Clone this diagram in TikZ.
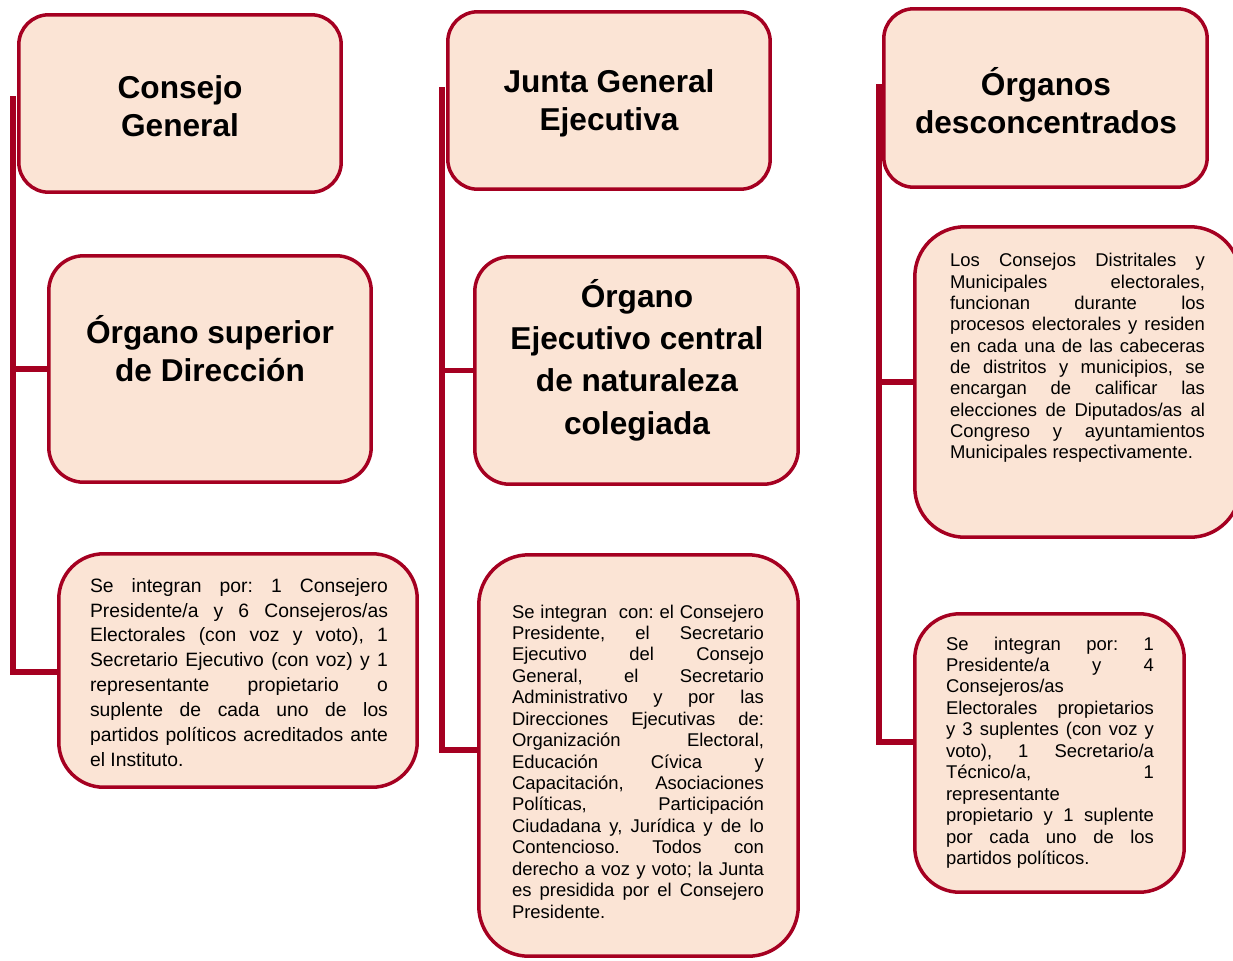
\documentclass[tikz,border=0pt]{standalone}
\usepackage{fontspec}
\setmainfont{Liberation Sans}
\definecolor{ineborde}{HTML}{A50021}
\definecolor{inefondo}{HTML}{FBE4D5}
\tolerance=10000
\hbadness=10000
\hyphenpenalty=10000
\exhyphenpenalty=10000
\frenchspacing

\begin{document}
\begin{tikzpicture}[x=0.02cm,y=-0.02cm,
  caja/.style={draw=ineborde,fill=inefondo,line width=0.07cm,inner sep=0pt},
  titulo/.style={align=center,font=\fontsize{18}{21.5}\selectfont\bfseries},
  parrafo/.style={align=justify,inner sep=0pt,font=\fontsize{10.5}{12.15}\selectfont},
  eje/.style={draw=ineborde,line width=0.11cm}]
\useasboundingbox (0,0) rectangle (1233,960);
\clip (0,0) rectangle (1233,960);
% primera columna
\node[caja,minimum width=6.45cm,minimum height=3.55cm,rounded corners=0.6cm] (cg) at (180,103.5) {};
\node[caja,minimum width=6.45cm,minimum height=4.53cm,rounded corners=0.7cm] (osd) at (210,369) {};
\node[caja,minimum width=7.17cm,minimum height=4.67cm,rounded corners=0.9cm] (cgint) at (238,670.5) {};
\node[titulo] (cgtxt) at (180,106) {Consejo\\General};
\node[titulo] (osdtxt) at (210,349) {Órgano superior\\de Dirección};
\node[parrafo,text width=5.96cm,font=\fontsize{11}{14.2}\selectfont] (cginttxt) at (239,672.5) {Se integran por: 1 Consejero\linebreak
Presidente/a y 6 Consejeros/as\linebreak
Electorales (con voz y voto), 1\linebreak
Secretario Ejecutivo (con voz) y 1\linebreak
representante propietario o\linebreak
suplente de cada uno de los\linebreak
partidos políticos acreditados ante\linebreak
el Instituto.};
% segunda columna
\node[caja,minimum width=6.45cm,minimum height=3.55cm,rounded corners=0.6cm] (jge) at (609,100.5) {};
\node[caja,minimum width=6.47cm,minimum height=4.55cm,rounded corners=0.7cm] (oec) at (636.5,370.5) {};
\node[caja,minimum width=6.39cm,minimum height=8.03cm,rounded corners=1cm] (jgeint) at (638.5,755.5) {};
\node[titulo] (jgetxt) at (609,103) {Junta General\\Ejecutiva};
\node[titulo,font=\fontsize{18}{24.1}\selectfont\bfseries] (oectxt) at (637,360) {Órgano\\Ejecutivo central\\de naturaleza\\colegiada};
\node[parrafo,text width=5.04cm,font=\fontsize{10.5}{12.2}\selectfont] (jgeinttxt) at (638,761.5) {Se integran\ \ con: el Consejero\linebreak
Presidente, el Secretario\linebreak
Ejecutivo del Consejo\linebreak
General, el Secretario\linebreak
Administrativo y por las\linebreak
Direcciones Ejecutivas de:\linebreak
Organización Electoral,\linebreak
Educación Cívica y\linebreak
Capacitación, Asociaciones\linebreak
Políticas, Participación\linebreak
Ciudadana y, Jurídica y de lo\linebreak
Contencioso. Todos con\linebreak
derecho a voz y voto; la Junta\linebreak
es presidida por el Consejero\linebreak
Presidente.};
% tercera columna
\node[caja,minimum width=6.47cm,minimum height=3.57cm,rounded corners=0.6cm] (od) at (1045.5,98) {};
\node[caja,minimum width=6.51cm,minimum height=6.21cm,rounded corners=1cm] (cdm) at (1077.5,382) {};
\node[caja,minimum width=5.39cm,minimum height=5.57cm,rounded corners=0.9cm] (odint) at (1049.5,753) {};
\node[titulo] (odtxt) at (1046,101) {Órganos\\desconcentrados};
\node[parrafo,text width=5.1cm] (cdmtxt) at (1077.5,358) {Los Consejos Distritales y\linebreak
Municipales electorales,\linebreak
funcionan durante los\linebreak
procesos electorales y residen\linebreak
en cada una de las cabeceras\linebreak
de distritos y municipios, se\linebreak
encargan de calificar las\linebreak
elecciones de Diputados/as al\linebreak
Congreso y ayuntamientos\linebreak
Municipales respectivamente.};
\node[parrafo,text width=4.16cm,font=\fontsize{10.5}{12.2}\selectfont] (odinttxt) at (1050,752.5) {Se integran por: 1\linebreak
Presidente/a y 4\linebreak
Consejeros/as\linebreak
Electorales propietarios\linebreak
y 3 suplentes (con voz y\linebreak
voto), 1 Secretario/a\linebreak
Técnico/a, 1\linebreak
representante\linebreak
propietario y 1 suplente\linebreak
por cada uno de los\linebreak
partidos políticos.};
% ejes
\coordinate (e1) at (13,96);
\coordinate (e1b) at (13,672);
\coordinate (e2) at (442,87);
\coordinate (e2b) at (442,750);
\coordinate (e3) at (879,84);
\coordinate (e3b) at (879,742);
\draw[eje] (e1) -- (e1b) -- (e1b -| cgint.west);
\draw[eje] (e1 |- osd.west) -- (osd.west);
\draw[eje] (e2) -- (e2b) -- (e2b -| jgeint.west);
\draw[eje] (e2 |- oec.west) -- (oec.west);
\draw[eje] (e3) -- (e3b) -- (e3b -| odint.west);
\draw[eje] (e3 |- cdm.west) -- (cdm.west);
\end{tikzpicture}
\end{document}
